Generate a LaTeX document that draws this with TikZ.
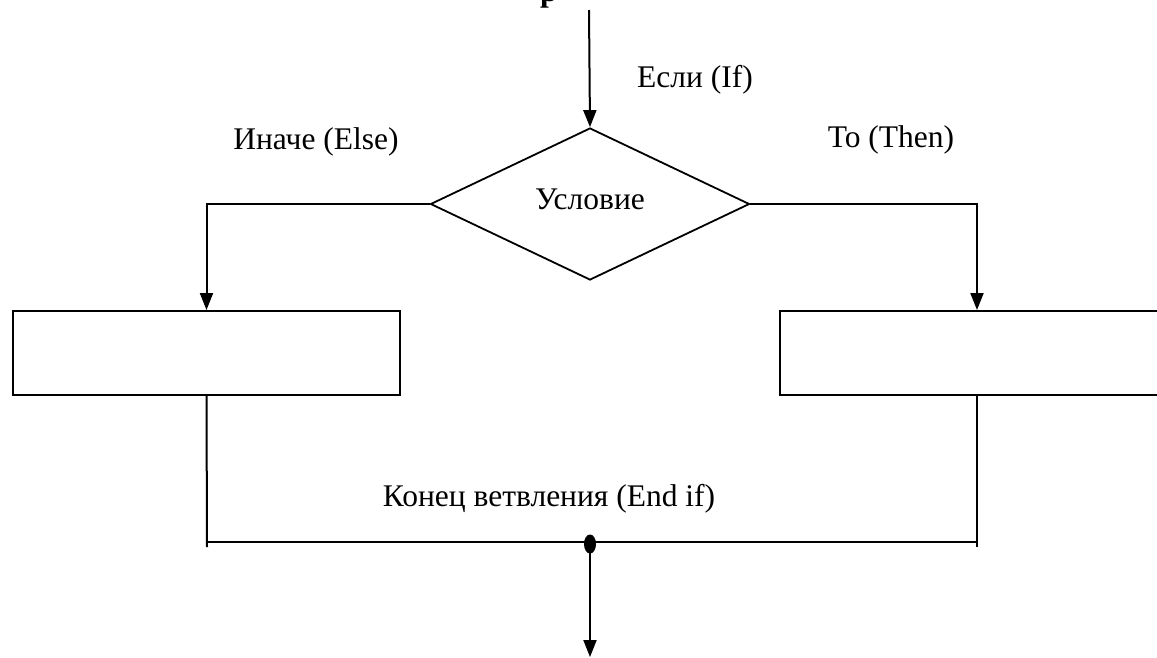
\documentclass[tikz,border=0pt]{standalone}
\usepackage{fontspec}
\setmainfont{Liberation Serif}
\usetikzlibrary{shapes.geometric,arrows.meta}
\begin{document}
\begin{tikzpicture}[x=1pt,y=-1pt,
  ln/.style={line width=2pt},
  arr/.style={ln,-{Triangle[width=13pt,length=17pt]}},
  lbl/.style={font=\fontsize{31.5}{36}\selectfont, inner sep=0pt},
  blk/.style={draw, line width=2pt, rectangle, minimum width=387pt, minimum height=84pt, inner sep=0pt}]
\useasboundingbox (0,0) rectangle (1157,657);
% cut-off title
\node[lbl, anchor=base, font=\fontsize{31.5}{36}\selectfont\bfseries] (title) at (549,1) {р};
\node[draw, diamond, line width=1.8pt, minimum width=319pt, minimum height=152pt, inner sep=0pt, aspect=2.1] (dia) at (590,204) {};
\node[lbl] (cond) at (590,199) {Условие};
\coordinate (top) at (589,10);
\node[blk] (lbox) at (206.5,353) {};
\node[blk, minimum width=392pt] (rbox) at (976,353) {};
\node[lbl] (if) at (695,80) {Если (If)};
\node[lbl] (else) at (316,142) {Иначе (Else)};
\node[lbl] (then) at (891,140) {То (Then)};
\node[lbl] (endif) at (549,499) {Конец ветвления (End if)};
\coordinate (lb) at (207,547);
\coordinate (rb) at (977,547);
\coordinate (lh) at (207,542);
\coordinate (rh) at (977,542);
\node[fill=black, ellipse, minimum width=12pt, minimum height=19pt, inner sep=0pt] (dot) at (590,544) {};
\coordinate (out) at (590,657);
\draw[arr] (top) -- (dia.north);
\draw[arr] (dia.west) -| (lbox.north);
\draw[arr] (dia.east) -| ([xshift=1pt]rbox.north);
\draw[ln] (lbox.south) -- (lb);
\draw[ln] ([xshift=1pt]rbox.south) -- (rb);
\draw[ln] (lh) -- (rh);
\draw[arr] (dot.center) -- (out);
\end{tikzpicture}
\end{document}
